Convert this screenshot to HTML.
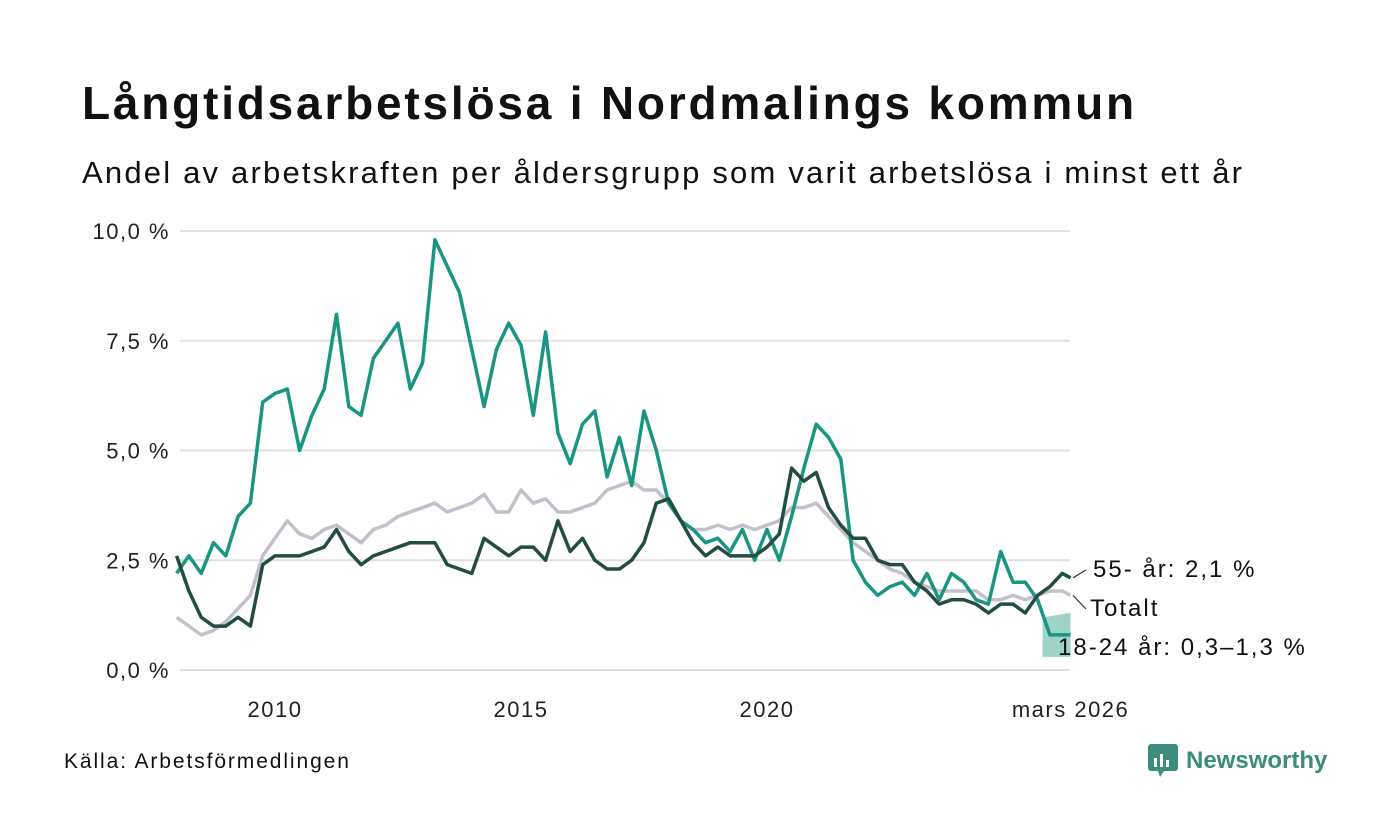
<!DOCTYPE html>
<html><head><meta charset="utf-8"><style>
body{margin:0;background:#fff;font-family:"Liberation Sans",sans-serif;}
#wrap{position:relative;width:1400px;height:840px;overflow:hidden;background:#fff}
h1{position:absolute;left:82px;top:76px;margin:0;font-size:46px;font-weight:bold;color:#111;letter-spacing:2.8px;white-space:nowrap}
.sub{position:absolute;left:82px;top:155px;font-size:31px;color:#111;letter-spacing:2.2px;white-space:nowrap}
.src{position:absolute;left:64px;top:750px;font-size:21px;color:#111;letter-spacing:1.9px}
.logo{position:absolute;left:1148px;top:744px;display:flex;align-items:center;gap:8px;color:#3b8c7c;font-weight:bold;font-size:24px}
</style></head><body><div id="wrap">
<h1>Långtidsarbetslösa i Nordmalings kommun</h1>
<div class="sub">Andel av arbetskraften per åldersgrupp som varit arbetslösa i minst ett år</div>
<svg id="chart" width="1400" height="840" style="position:absolute;left:0;top:0"></svg>
<div class="src">Källa: Arbetsförmedlingen</div>
<div class="logo"><svg width="30" height="34" viewBox="0 0 30 34"><rect x="0" y="0" width="30" height="27" rx="3" fill="#3b8c7c"/><polygon points="10,27 16,27 12,33" fill="#3b8c7c"/><rect x="6" y="14" width="3" height="9" fill="#fff"/><rect x="12" y="10" width="3" height="13" fill="#fff"/><rect x="18" y="16" width="3" height="7" fill="#fff"/></svg><span>Newsworthy</span></div>
<script>
const youth=[2.2,2.6,2.2,2.9,2.6,3.5,3.8,6.1,6.3,6.4,5.0,5.8,6.4,8.1,6.0,5.8,7.1,7.5,7.9,6.4,7.0,9.8,9.2,8.6,7.3,6.0,7.3,7.9,7.4,5.8,7.7,5.4,4.7,5.6,5.9,4.4,5.3,4.2,5.9,5.0,3.8,3.4,3.2,2.9,3.0,2.7,3.2,2.5,3.2,2.5,3.5,4.6,5.6,5.3,4.8,2.5,2.0,1.7,1.9,2.0,1.7,2.2,1.6,2.2,2.0,1.6,1.5,2.7,2.0,2.0,1.6,0.8,0.8,0.8];
const senior=[2.6,1.8,1.2,1.0,1.0,1.2,1.0,2.4,2.6,2.6,2.6,2.7,2.8,3.2,2.7,2.4,2.6,2.7,2.8,2.9,2.9,2.9,2.4,2.3,2.2,3.0,2.8,2.6,2.8,2.8,2.5,3.4,2.7,3.0,2.5,2.3,2.3,2.5,2.9,3.8,3.9,3.4,2.9,2.6,2.8,2.6,2.6,2.6,2.8,3.1,4.6,4.3,4.5,3.7,3.3,3.0,3.0,2.5,2.4,2.4,2.0,1.8,1.5,1.6,1.6,1.5,1.3,1.5,1.5,1.3,1.7,1.9,2.2,2.1];
const total=[1.2,1.0,0.8,0.9,1.1,1.4,1.7,2.6,3.0,3.4,3.1,3.0,3.2,3.3,3.1,2.9,3.2,3.3,3.5,3.6,3.7,3.8,3.6,3.7,3.8,4.0,3.6,3.6,4.1,3.8,3.9,3.6,3.6,3.7,3.8,4.1,4.2,4.3,4.1,4.1,3.8,3.4,3.2,3.2,3.3,3.2,3.3,3.2,3.3,3.4,3.7,3.7,3.8,3.5,3.2,2.9,2.7,2.5,2.3,2.2,2.0,1.9,1.8,1.8,1.8,1.8,1.6,1.6,1.7,1.6,1.7,1.8,1.8,1.7];
const bandLow=[0.3,0.3];
const bandHigh=[1.2,1.3];
const bandDates=[2025.6,2026.17];
const yTicks=[0,2.5,5,7.5,10];
const yTickLabels=["0,0 %","2,5 %","5,0 %","7,5 %","10,0 %"];
const xTicks=[2010,2015,2020,2026.17];
const xTickLabels=["2010","2015","2020","mars 2026"];
const dates=youth.map((v,i)=>Math.min(2008+i*0.25,2026.17));
const NS="http://www.w3.org/2000/svg";
const svg=document.getElementById('chart');
const X=d=>275+(d-2010)*49.2;
const Y=v=>670-v*43.9;
function mk(t,a){const e=document.createElementNS(NS,t);for(const k in a)e.setAttribute(k,a[k]);svg.appendChild(e);return e;}
yTicks.forEach((t,i)=>{
 const l=mk('line',{x1:180,x2:1070,y1:Y(t),y2:Y(t),stroke:'#e0e0e3','stroke-width':2});
 
 
 const tx=mk('text',{x:170,y:Y(t)+8,'text-anchor':'end','font-size':22,'letter-spacing':1.5,fill:'#222'});
 tx.textContent=yTickLabels[i];
 
 
});
xTicks.forEach((t,i)=>{
 const tx=mk('text',{x:X(t),y:717,'text-anchor':'middle','font-size':22,'letter-spacing':1.5,fill:'#222'});
 tx.textContent=xTickLabels[i];
 
 
});
let bp=bandDates.map((d,i)=>X(d)+','+Y(bandHigh[i])).join(' ')+' '+bandDates.slice().reverse().map((d,j)=>{const i=bandDates.length-1-j;return X(d)+','+Y(bandLow[i]);}).join(' ');
const band=mk('polygon',{points:bp,fill:'#9fd3c7'});


function line(arr,col,name){
 const p=mk('polyline',{points:arr.map((v,i)=>X(dates[i])+','+Y(v)).join(' '),fill:'none',stroke:col,'stroke-width':3.5,'stroke-linejoin':'round'});
 
 
}
line(total,'#c2c0ca','series-totalt');
line(youth,'#1a9582','series-18-24');
line(senior,'#234d42','series-55-plus');
const last=dates.length-1;
function lab(txt,y,x,ly,name){
 const l=mk('line',{x1:1073,y1:ly,x2:1086,y2:y-7,stroke:'#333','stroke-width':1.2});
 
 
 const t=mk('text',{x:x,y:y,'font-size':24,'letter-spacing':2,fill:'#111'});
 t.textContent=txt;
 
 
}
lab('55- år: 2,1 %',577,1093,Y(senior[last]),'label-55-plus');
lab('Totalt',616,1090,Y(total[last]),'label-totalt');
const t3=mk('text',{x:1058,y:655,'font-size':24,'letter-spacing':2,fill:'#111'});
t3.textContent='18-24 år: 0,3–1,3 %';


</script>
</div></body></html>
